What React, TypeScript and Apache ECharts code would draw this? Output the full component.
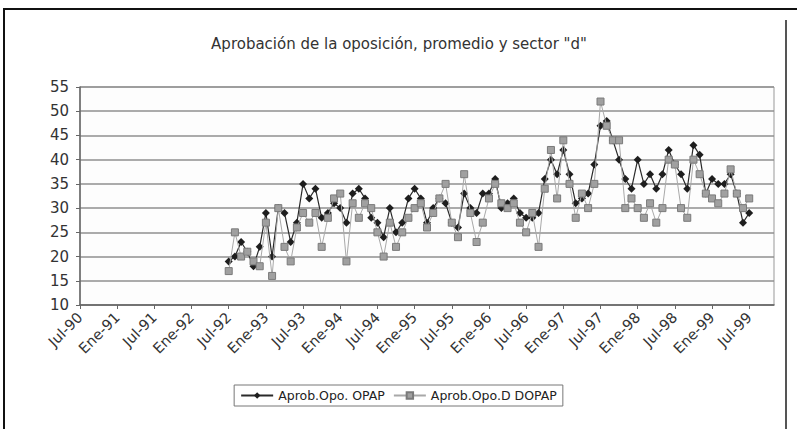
import React, { useEffect, useRef } from "react";
import * as echarts from "echarts";

// Tick labels (every 6 months starting Jul-90)
const tickLabels = [
  "Jul-90", "Ene-91", "Jul-91", "Ene-92", "Jul-92", "Ene-93", "Jul-93", "Ene-94", "Jul-94",
  "Ene-95", "Jul-95", "Ene-96", "Jul-96", "Ene-97", "Jul-97", "Ene-98", "Jul-98", "Ene-99", "Jul-99",
];

// Monthly observations starting Jul-92 (month index 24 counted from Jul-90)
const startMonth = 24;

const opap = [
  19, 20, 23, 21, 18, 22, 29, 20, 30, 29, 23, 27, 35, 32, 34, 28, 29, 31, 30, 27,
  33, 34, 32, 28, 27, 24, 30, 25, 27, 32, 34, 32, 27, 30, 32, 31, 27, 26, 33, 30,
  29, 33, 33, 36, 30, 31, 32, 29, 28, 28, 29, 36, 40, 37, 42, 37, 31, 32, 33, 39,
  47, 48, 44, 40, 36, 34, 40, 35, 37, 34, 37, 42, 39, 37, 34, 43, 41, 33, 36, 35,
  35, 37, 33, 27, 29,
];

const dopap = [
  17, 25, 20, 21, 19, 18, 27, 16, 30, 22, 19, 26, 29, 27, 29, 22, 28, 32, 33, 19,
  31, 28, 31, 30, 25, 20, 27, 22, 25, 28, 30, 31, 26, 29, 32, 35, 27, 24, 37, 29,
  23, 27, 32, 35, 31, 30, 31, 27, 25, 29, 22, 34, 42, 32, 44, 35, 28, 33, 30, 35,
  52, 47, 44, 44, 30, 32, 30, 28, 31, 27, 30, 40, 39, 30, 28, 40, 37, 33, 32, 31,
  33, 38, 33, 30, 32,
];

const seriesNames = ["Aprob.Opo. OPAP", "Aprob.Opo.D DOPAP"];
const titleText = 'Aprobación de la oposición, promedio y sector "d"';

const FONT = "'DejaVu Sans', Verdana, sans-serif";

export default function App() {
  const ref = useRef<HTMLDivElement>(null);

  useEffect(() => {
    if (!ref.current) return;
    const chart = echarts.init(ref.current, undefined, { renderer: "svg" });
    const tickValues = tickLabels.map((_, i) => i * 6);
    const toPairs = (arr: number[]) => arr.map((v, i) => [startMonth + i, v]);

    chart.setOption({
      animation: false,
      backgroundColor: "#ffffff",
      textStyle: { fontFamily: FONT },
      title: {
        text: titleText,
        left: 394,
        textAlign: "center",
        top: 31,
        textStyle: { fontFamily: FONT, fontSize: 15, fontWeight: "normal", color: "#333" },
      },
      graphic: [
        { type: "line", shape: { x1: 3, y1: 9, x2: 797, y2: 9 }, style: { stroke: "#111", lineWidth: 2 } },
        { type: "line", shape: { x1: 4, y1: 9, x2: 4, y2: 429 }, style: { stroke: "#111", lineWidth: 2 } },
        { type: "line", shape: { x1: 786, y1: 20, x2: 786, y2: 429 }, style: { stroke: "#555", lineWidth: 2 } },
      ],
      legend: {
        data: seriesNames,
        left: "center",
        top: 385,
        orient: "horizontal",
        borderColor: "#777",
        borderWidth: 1,
        padding: [4, 6],
        itemGap: 8,
        itemWidth: 32,
        itemHeight: 8,
        textStyle: { fontFamily: FONT, fontSize: 12.5, color: "#222" },
      },
      grid: { left: 80, right: 23, top: 87, bottom: 124, show: true, borderColor: "#999", borderWidth: 1, backgroundColor: "#fdfdfd" },
      xAxis: {
        type: "value",
        min: 0,
        max: 112,
        interval: 6,
        axisLine: { show: true, onZero: false, lineStyle: { color: "#666", width: 1.5 } },
        axisTick: { show: true, customValues: tickValues, length: 4, lineStyle: { color: "#666" } },
        axisLabel: {
          customValues: tickValues,
          rotate: 45,
          fontFamily: FONT,
          fontSize: 14.5,
          color: "#333",
          margin: 10,
          formatter: (v: number) => tickLabels[Math.round(v / 6)] ?? "",
        },
        splitLine: { show: false },
      },
      yAxis: {
        type: "value",
        min: 10,
        max: 55,
        interval: 5,
        axisLine: { show: true, lineStyle: { color: "#666", width: 1.5 } },
        axisTick: { show: true, length: 4, lineStyle: { color: "#666" } },
        axisLabel: { fontFamily: FONT, fontSize: 15, color: "#333", margin: 11 },
        splitLine: { show: true, lineStyle: { color: "#8f8f8f", width: 1.5 } },
      },
      series: [
        {
          name: seriesNames[0],
          type: "line",
          data: toPairs(opap),
          symbol: "diamond",
          symbolSize: 8,
          itemStyle: { color: "#1e1e1e" },
          lineStyle: { color: "#2a2a2a", width: 1.2 },
          z: 2,
        },
        {
          name: seriesNames[1],
          type: "line",
          data: toPairs(dopap),
          symbol: "rect",
          symbolSize: 7,
          itemStyle: { color: "#a0a0a0", borderColor: "#7a7a7a", borderWidth: 1 },
          lineStyle: { color: "#a8a8a8", width: 1 },
          z: 3,
        },
      ],
    });

    return () => chart.dispose();
  }, []);

  return (
    <div
      ref={ref}
      style={{ position: "fixed", left: 0, top: 0, width: 797, height: 429 }}
    />
  );
}
